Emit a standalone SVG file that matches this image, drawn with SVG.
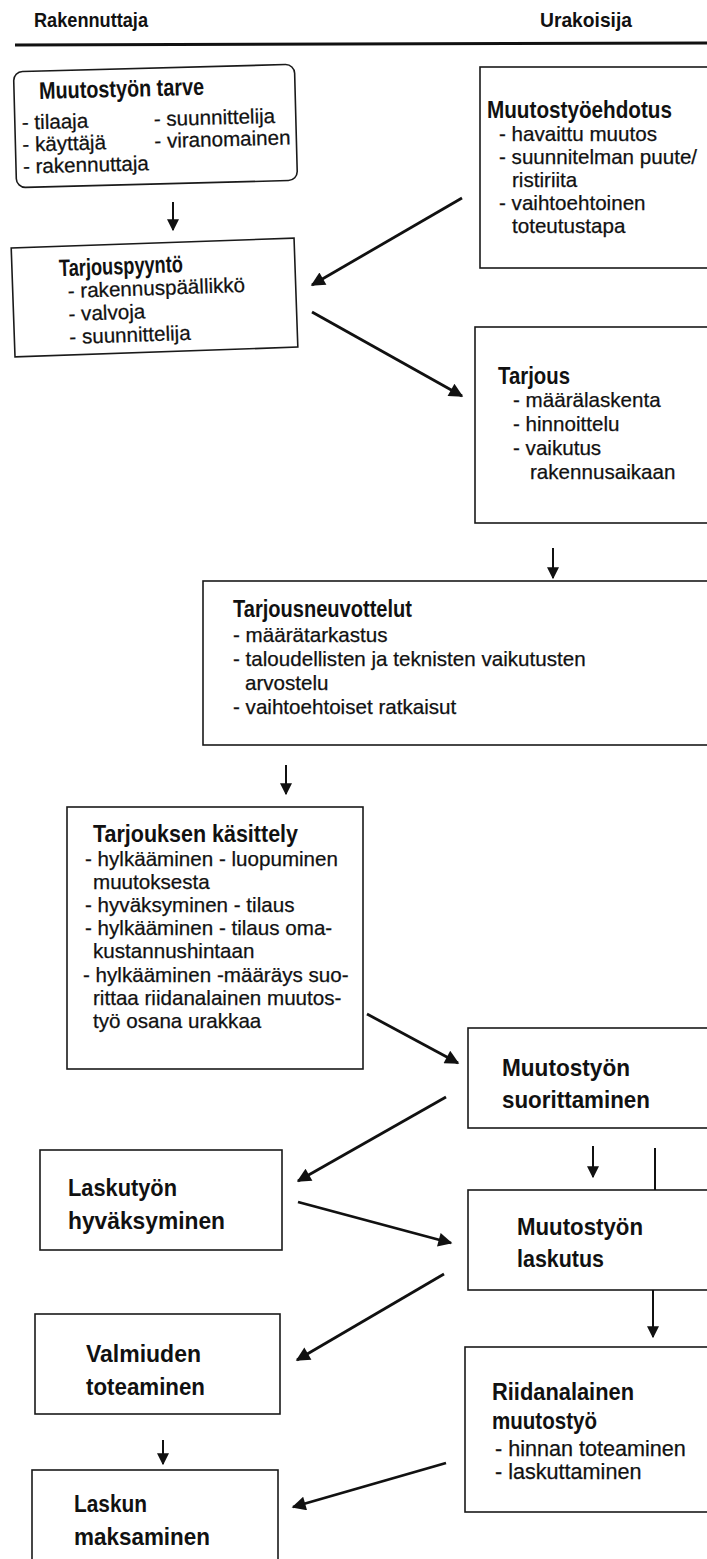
<svg xmlns="http://www.w3.org/2000/svg" width="707" height="1559" viewBox="0 0 707 1559">
<style>
.box{fill:#fff;stroke:#1a1a1a;stroke-width:1.6}
.t{font-family:"Liberation Sans",Arial,sans-serif;font-weight:bold;font-size:24px;fill:#111}
.h{font-family:"Liberation Sans",Arial,sans-serif;font-weight:bold;font-size:21px;fill:#111}
.i{font-family:"Liberation Sans",Arial,sans-serif;font-size:20.6px;fill:#111;stroke:#111;stroke-width:0.25}
.c{stroke:#111;stroke-width:2.8;fill:none}
.d{stroke:#111;stroke-width:2;fill:none}
</style>
<defs>
<marker id="ah" viewBox="0 0 10 10" refX="9" refY="5" markerUnits="userSpaceOnUse" markerWidth="17" markerHeight="14" orient="auto">
<path d="M0,0 L10,5 L0,10 z" fill="#111"/>
</marker>
<marker id="as" viewBox="0 0 10 10" refX="9" refY="5" markerUnits="userSpaceOnUse" markerWidth="12" markerHeight="12" orient="auto">
<path d="M0,0 L10,5 L0,10 z" fill="#111"/>
</marker>
</defs>
<rect width="707" height="1559" fill="#fff"/>
<g id="header">
<text class="h" x="34" y="27" textLength="114" lengthAdjust="spacingAndGlyphs">Rakennuttaja</text>
<text class="h" x="540" y="27" textLength="92" lengthAdjust="spacingAndGlyphs">Urakoisija</text>
<line x1="15" y1="45" x2="707" y2="43" stroke="#111" stroke-width="3"/>
</g>
<g id="n1" transform="rotate(-1.5 155 127)">
<rect class="box" x="15" y="68" width="281" height="116" rx="9"/>
<text class="t" x="40" y="96" textLength="165" lengthAdjust="spacingAndGlyphs">Muutostyön tarve</text>
<text class="i" x="22" y="126">- tilaaja</text>
<text class="i" x="22" y="148">- käyttäjä</text>
<text class="i" x="22" y="170">- rakennuttaja</text>
<text class="i" x="154" y="126">- suunnittelija</text>
<text class="i" x="154" y="148">- viranomainen</text>
</g>
<g id="n2" transform="rotate(-2 155 297)">
<rect class="box" x="13" y="243" width="283" height="109"/>
<text class="t" x="60" y="273" textLength="124" lengthAdjust="spacingAndGlyphs">Tarjouspyyntö</text>
<text class="i" x="68" y="295">- rakennuspäällikkö</text>
<text class="i" x="68" y="318">- valvoja</text>
<text class="i" x="68" y="341">- suunnittelija</text>
</g>
<g id="n3">
<rect class="box" x="480" y="67" width="260" height="201"/>
<text class="t" x="487" y="118" textLength="185" lengthAdjust="spacingAndGlyphs">Muutostyöehdotus</text>
<text class="i" x="499" y="141">- havaittu muutos</text>
<text class="i" x="499" y="164">- suunnitelman puute/</text>
<text class="i" x="512" y="187">ristiriita</text>
<text class="i" x="499" y="210">- vaihtoehtoinen</text>
<text class="i" x="512" y="233">toteutustapa</text>
</g>
<g id="n4">
<rect class="box" x="475" y="327" width="260" height="196"/>
<text class="t" x="498" y="384" textLength="72" lengthAdjust="spacingAndGlyphs">Tarjous</text>
<text class="i" x="513" y="407">- määrälaskenta</text>
<text class="i" x="513" y="431">- hinnoittelu</text>
<text class="i" x="513" y="455">- vaikutus</text>
<text class="i" x="530" y="479">rakennusaikaan</text>
</g>
<g id="n5">
<rect class="box" x="203" y="581" width="540" height="164"/>
<text class="t" x="233" y="617" textLength="179" lengthAdjust="spacingAndGlyphs">Tarjousneuvottelut</text>
<text class="i" x="233" y="642">- määrätarkastus</text>
<text class="i" x="233" y="666">- taloudellisten ja teknisten vaikutusten</text>
<text class="i" x="245" y="690">arvostelu</text>
<text class="i" x="233" y="714">- vaihtoehtoiset ratkaisut</text>
</g>
<g id="n6">
<rect class="box" x="67" y="807" width="296" height="262"/>
<text class="t" x="93" y="842" textLength="205" lengthAdjust="spacingAndGlyphs">Tarjouksen käsittely</text>
<text class="i" x="85" y="866">- hylkääminen - luopuminen</text>
<text class="i" x="93" y="889">muutoksesta</text>
<text class="i" x="85" y="912">- hyväksyminen - tilaus</text>
<text class="i" x="85" y="935">- hylkääminen - tilaus oma-</text>
<text class="i" x="93" y="958">kustannushintaan</text>
<text class="i" x="83" y="982">- hylkääminen -määräys suo-</text>
<text class="i" x="93" y="1005">rittaa riidanalainen muutos-</text>
<text class="i" x="93" y="1028">työ osana urakkaa</text>
</g>
<g id="n7">
<rect class="box" x="468" y="1028" width="260" height="100"/>
<text class="t" x="502" y="1076" textLength="128" lengthAdjust="spacingAndGlyphs">Muutostyön</text>
<text class="t" x="502" y="1108" textLength="148" lengthAdjust="spacingAndGlyphs">suorittaminen</text>
</g>
<g id="n8">
<rect class="box" x="40" y="1150" width="242" height="100"/>
<text class="t" x="68" y="1196" textLength="109" lengthAdjust="spacingAndGlyphs">Laskutyön</text>
<text class="t" x="68" y="1229" textLength="157" lengthAdjust="spacingAndGlyphs">hyväksyminen</text>
</g>
<g id="n9">
<rect class="box" x="468" y="1190" width="260" height="100"/>
<text class="t" x="517" y="1235" textLength="126" lengthAdjust="spacingAndGlyphs">Muutostyön</text>
<text class="t" x="517" y="1267" textLength="87" lengthAdjust="spacingAndGlyphs">laskutus</text>
</g>
<g id="n10">
<rect class="box" x="35" y="1314" width="245" height="100"/>
<text class="t" x="86" y="1362" textLength="115" lengthAdjust="spacingAndGlyphs">Valmiuden</text>
<text class="t" x="86" y="1395" textLength="119" lengthAdjust="spacingAndGlyphs">toteaminen</text>
</g>
<g id="n11">
<rect class="box" x="465" y="1347" width="260" height="165"/>
<text class="t" x="492" y="1400" textLength="142" lengthAdjust="spacingAndGlyphs">Riidanalainen</text>
<text class="t" x="492" y="1429" textLength="105" lengthAdjust="spacingAndGlyphs">muutostyö</text>
<text class="i" x="495" y="1456" style="font-size:21.6px">- hinnan toteaminen</text>
<text class="i" x="495" y="1479" style="font-size:21.6px">- laskuttaminen</text>
</g>
<g id="n12">
<rect class="box" x="32" y="1470" width="246" height="100"/>
<text class="t" x="74" y="1512" textLength="73" lengthAdjust="spacingAndGlyphs">Laskun</text>
<text class="t" x="74" y="1545" textLength="136" lengthAdjust="spacingAndGlyphs">maksaminen</text>
</g>
<g id="connectors">
<line class="d" x1="173" y1="202" x2="173" y2="230" marker-end="url(#as)"/>
<line class="c" x1="462" y1="198" x2="312" y2="285" marker-end="url(#ah)"/>
<line class="c" x1="312" y1="312" x2="462" y2="396" marker-end="url(#ah)"/>
<line class="d" x1="553" y1="548" x2="553" y2="578" marker-end="url(#as)"/>
<line class="d" x1="286" y1="765" x2="286" y2="794" marker-end="url(#as)"/>
<line class="c" x1="367" y1="1014" x2="458" y2="1063" marker-end="url(#ah)"/>
<line class="c" x1="446" y1="1097" x2="298" y2="1181" marker-end="url(#ah)"/>
<line class="c" x1="298" y1="1202" x2="451" y2="1243" marker-end="url(#ah)"/>
<line class="d" x1="593" y1="1146" x2="593" y2="1177" marker-end="url(#as)"/>
<line class="d" x1="655" y1="1148" x2="655" y2="1190"/>
<line class="c" x1="444" y1="1274" x2="297" y2="1360" marker-end="url(#ah)"/>
<line class="d" x1="653" y1="1290" x2="653" y2="1337" marker-end="url(#as)"/>
<line class="d" x1="163" y1="1440" x2="163" y2="1464" marker-end="url(#as)"/>
<line class="c" x1="446" y1="1463" x2="293" y2="1507" marker-end="url(#ah)"/>
</g>
</svg>
